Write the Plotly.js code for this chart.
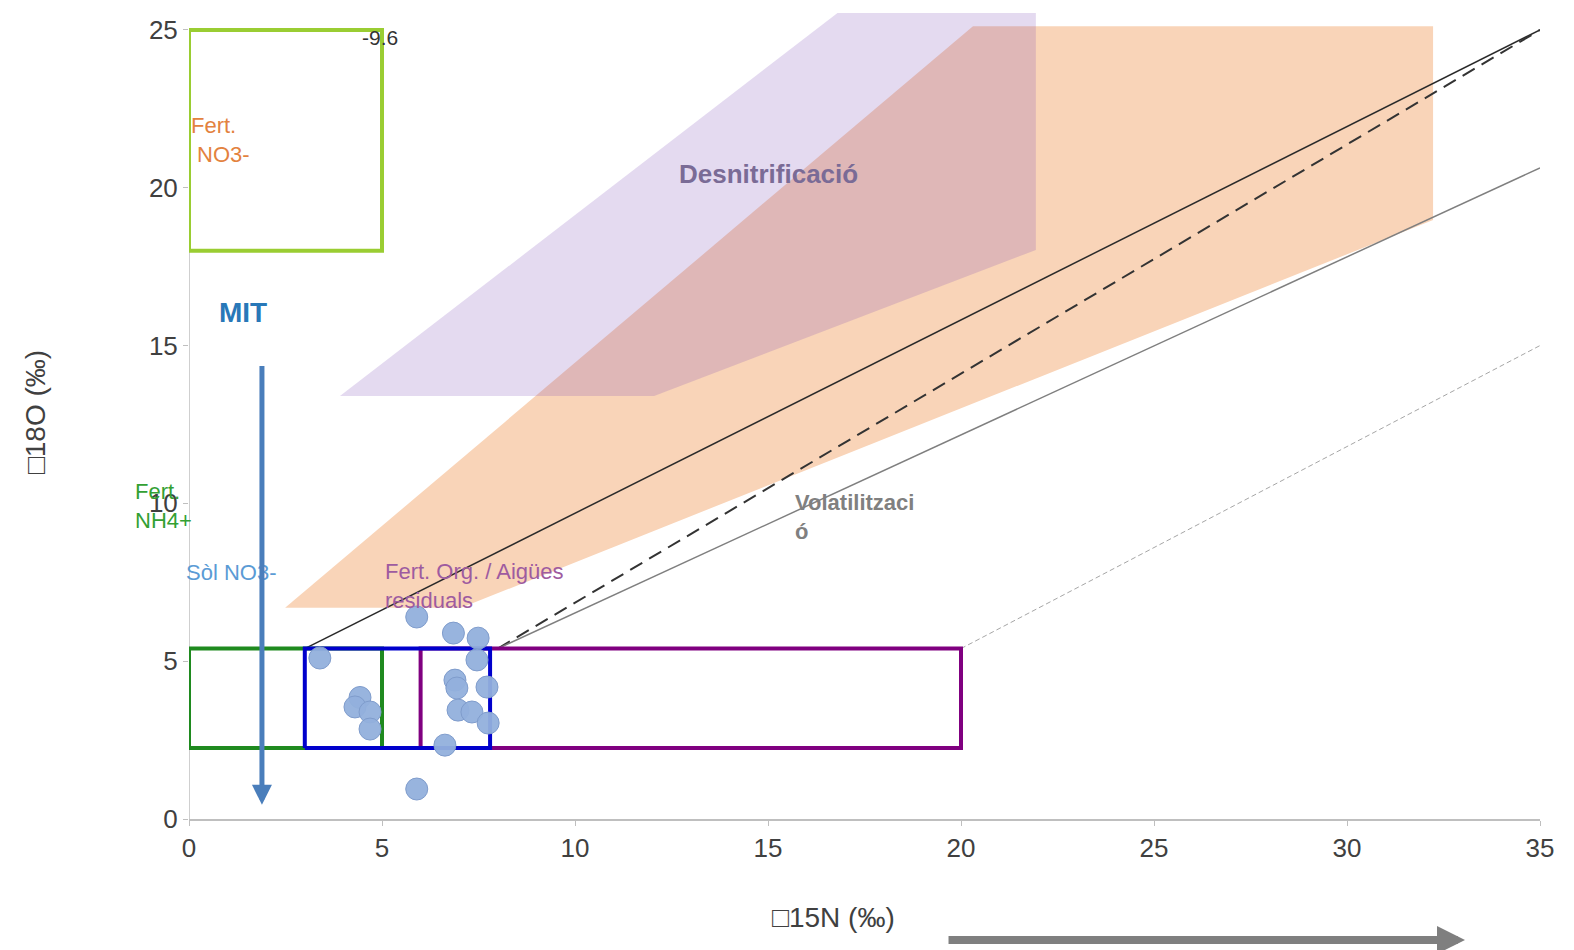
<!DOCTYPE html>
<html>
<head>
<meta charset="utf-8">
<script src="https://cdn.plot.ly/plotly-3.0.1.min.js"></script>
<style>html,body{margin:0;padding:0;background:#fff;}#chart{width:1574px;height:950px;}</style>
</head>
<body>
<div id="chart"></div>
<script>
// Sample points (δ15N, δ18O)
const sampleX = [3.39, 4.43, 4.30, 4.69, 4.69, 5.90, 5.90, 6.85, 7.49, 7.46, 6.89, 6.94, 7.72, 6.97, 7.33, 7.75, 6.63];
const sampleY = [5.10, 3.85, 3.55, 3.39, 2.85, 6.40, 0.95, 5.89, 5.73, 5.04, 4.40, 4.15, 4.18, 3.45, 3.39, 3.04, 2.34];

// Source boxes: [x0, x1, y0, y1]
const boxFertNO3 = [0, 5, 18, 25];
const boxFertNH4 = [0, 5, 2.25, 5.4];
const boxOrg = [6, 20, 2.25, 5.4];
const boxSoil = [3, 7.8, 2.25, 5.4];

// Process polygons
const orangeX = [2.49, 7.05, 32.23, 32.23, 20.31];
const orangeY = [6.69, 6.69, 18.98, 25.12, 25.12];
const denitX = [3.91, 12.05, 21.94, 21.94, 16.8];
const denitY = [13.4, 13.4, 18.03, 25.54, 25.54];

// Reference lines
const lineSolidX = [3, 35], lineSolidY = [5.4, 25];
const lineDashX = [8, 35], lineDashY = [5.4, 25];
const lineGrayX = [8, 35], lineGrayY = [5.4, 20.63];
const lineGrayDashX = [20, 35], lineGrayDashY = [5.4, 15.0];

const xTicks = [0, 5, 10, 15, 20, 25, 30, 35];
const yTicks = [0, 5, 10, 15, 20, 25];

function boxTrace(b, color) {
  return {x: [b[0], b[1], b[1], b[0], b[0]], y: [b[2], b[2], b[3], b[3], b[2]],
    mode: 'lines', line: {color: color, width: 4}, hoverinfo: 'skip', showlegend: false};
}
function polyTrace(xs, ys, fill) {
  return {x: xs, y: ys, mode: 'lines', fill: 'toself', fillcolor: fill, line: {width: 0, color: 'rgba(0,0,0,0)'},
    hoverinfo: 'skip', showlegend: false};
}
function lineTrace(xs, ys, color, width, dash) {
  return {x: xs, y: ys, mode: 'lines', line: {color: color, width: width, dash: dash}, hoverinfo: 'skip', showlegend: false};
}

const traces = [
  polyTrace(orangeX, orangeY, 'rgb(249,212,184)'),
  polyTrace(denitX, denitY, 'rgba(120,70,180,0.2)'),
  lineTrace(lineSolidX, lineSolidY, '#2a2a2a', 1.5, 'solid'),
  lineTrace(lineDashX, lineDashY, '#333333', 2, '14px,8px'),
  lineTrace(lineGrayX, lineGrayY, '#7f7f7f', 1.5, 'solid'),
  lineTrace(lineGrayDashX, lineGrayDashY, '#a6a6a6', 1, '5px,3px'),
  boxTrace(boxFertNH4, '#1f8a1f'),
  boxTrace(boxOrg, '#800080'),
  boxTrace(boxSoil, '#0000cc'),
  boxTrace(boxFertNO3, '#9acd32'),
  {x: sampleX, y: sampleY, mode: 'markers', type: 'scatter', showlegend: false,
   marker: {size: 22, color: 'rgba(146,176,220,0.95)', line: {color: '#7f9ccc', width: 1}}}
];

const F = 'Liberation Sans, Arial, sans-serif';
const annotations = [
  {x: 4.95, y: 24.75, xref: 'x', yref: 'y', text: '-9.6', showarrow: false, font: {family: F, size: 21, color: '#333'}},
  {x: 0, y: 21.5, xref: 'x', yref: 'y', xanchor: 'left', align: 'left', text: 'Fert.<br> NO3-', showarrow: false, font: {family: F, size: 22, color: '#e3823e'}},
  {x: 1.4, y: 16.06, xref: 'x', yref: 'y', text: '<b>MIT</b>', showarrow: false, font: {family: F, size: 28, color: '#2878b8'}},
  {x: -0.0414, y: 0.385, xref: 'paper', yref: 'paper', xanchor: 'left', yanchor: 'middle', align: 'left', text: 'Fert.<br>NH4+', showarrow: false, font: {family: F, size: 22, color: '#33a033'}},
  {x: 1.09, y: 7.8, xref: 'x', yref: 'y', text: 'Sòl NO3-', showarrow: false, font: {family: F, size: 22, color: '#5b9bd5'}},
  {x: 5.03, y: 7.38, xref: 'x', yref: 'y', xanchor: 'left', align: 'left', text: 'Fert. Org. / Aigües<br>residuals', showarrow: false, font: {family: F, size: 22, color: '#9e5ba0'}},
  {x: 15.0, y: 20.44, xref: 'x', yref: 'y', text: '<b>Desnitrificació</b>', showarrow: false, font: {family: F, size: 26, color: '#7a6b96'}},
  {x: 15.65, y: 9.57, xref: 'x', yref: 'y', xanchor: 'left', align: 'left', text: '<b>Volatilitzaci<br>ó</b>', showarrow: false, font: {family: F, size: 22, color: '#808080'}},
  // x-axis title placed as in the reference (left of plot centre)
  {x: (833 - 189) / 1351, y: -0.1216, xref: 'paper', yref: 'paper', xanchor: 'center', yanchor: 'middle', text: '□15N (‰)', showarrow: false, font: {family: F, size: 28, color: '#404040'}},
  // MIT arrow
  {x: 1.89, y: 0.45, xref: 'x', yref: 'y', axref: 'x', ayref: 'y', ax: 1.89, ay: 14.4, text: '', showarrow: true,
   arrowhead: 2, arrowsize: 0.8, arrowwidth: 5, arrowcolor: '#4a7ebb', standoff: 0},
  // bottom gray arrow
  {x: 0.9445, y: -0.1486, xref: 'paper', yref: 'paper', axref: 'pixel', ayref: 'pixel', ax: -518, ay: 0, text: '', showarrow: true,
   arrowhead: 2, arrowsize: 0.7, arrowwidth: 8, arrowcolor: '#7f7f7f', standoff: 0}
];

const layout = {
  width: 1574, height: 950,
  margin: {l: 189, r: 34, t: 5, b: 131},
  paper_bgcolor: '#fff', plot_bgcolor: '#fff',
  font: {family: F, color: '#404040'},
  showlegend: false,
  xaxis: {range: [0, 35], tickvals: xTicks, ticktext: xTicks.map(String), ticks: 'outside', ticklen: 5, tickcolor: '#bfbfbf',
    showline: true, linecolor: '#bfbfbf', linewidth: 1.5, showgrid: false, zeroline: false,
    tickfont: {size: 26, color: '#404040'}},
  yaxis: {range: [0, 25.79], tickvals: yTicks, ticktext: yTicks.map(String), ticks: 'outside', ticklen: 5, tickcolor: '#bfbfbf',
    showline: false, showgrid: false, zeroline: false,
    tickfont: {size: 26, color: '#404040'},
    title: {text: '□18O (‰)', font: {size: 28, color: '#404040'}, standoff: 95}},
  shapes: [
    {type: 'line', xref: 'x', yref: 'y', x0: 0, x1: 0, y0: 0, y1: 25, line: {color: '#bfbfbf', width: 1.5}, layer: 'below'}
  ],
  annotations: annotations
};

Plotly.newPlot('chart', traces, layout, {displayModeBar: false, staticPlot: true});
</script>
</body>
</html>
